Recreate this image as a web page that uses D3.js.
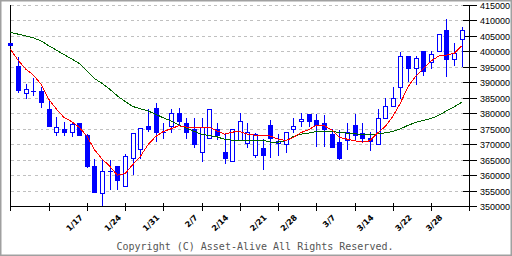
<!DOCTYPE html>
<html>
<head>
<meta charset="utf-8">
<script src="https://cdn.jsdelivr.net/npm/d3@7"></script>
<style>
html, body { margin: 0; padding: 0; background: #fff; }
svg { display: block; }
</style>
</head>
<body>
<div id="wrapper"></div>
<script>
// trading days shown on the chart
var dates = ["1/4","1/5","1/6","1/7","1/11","1/12","1/13","1/14",
  "1/17","1/18","1/19","1/20","1/21","1/24","1/25","1/26","1/27","1/28",
  "1/31","2/1","2/2","2/3","2/4","2/7","2/8","2/9","2/10",
  "2/14","2/15","2/16","2/17","2/18","2/21","2/22","2/23","2/24",
  "2/28","3/1","3/2","3/3","3/4","3/7","3/8","3/9","3/10","3/11",
  "3/14","3/15","3/16","3/17","3/18","3/22","3/23","3/24","3/25",
  "3/28","3/29","3/30","3/31","4/1"];

var openValues = [402500,395150,386460,387000,387000,381210,374040,374780,374040,376930,
  373070,362870,354090,361170,362970,356340,365670,368340,375740,381540,
  374040,375840,380150,376930,374780,367600,372110,374780,367470,364580,
  371340,370500,366640,368660,376070,370500,370050,374880,377450,379610,
  377770,376930,373170,370600,371460,376070,373720,372110,370180,378540,
  382280,388390,398590,394500,400200,396560,399980,406960,397630,403970];
var highValues = [402500,398170,389260,391190,388390,384110,378640,377030,376930,376930,
  373300,365130,364900,364800,362970,366730,373720,375100,381210,383150,
  376710,381210,381540,378540,378320,378320,381440,376930,373720,375000,
  380150,376930,373720,371560,377670,373170,374040,378540,380150,379610,
  379610,379280,374780,374680,376930,379610,376930,374040,381210,384980,
  388520,399650,398590,398380,400200,400200,405670,410400,402680,407700];
var lowValues = [402000,386780,384850,385800,381950,375840,372850,372850,372530,372940,
  362650,354600,350420,355470,355470,356340,360300,365670,374230,371010,
  372110,374040,376160,371880,369210,364580,372110,371560,364060,364580,
  371340,369210,365990,361910,365990,366510,367470,373910,375840,375840,
  369400,369400,369080,365130,368340,371240,371010,368120,370180,378540,
  382280,384750,390320,389490,392250,394630,399980,391930,395700,395370];
var closeValues = [402000,387330,387650,387000,383560,375840,375650,373910,376610,372940,
  362970,354600,361170,361170,358460,366090,373720,375100,374880,374040,
  374040,380150,377450,374040,370180,375650,381440,372850,365450,375000,
  377580,373910,373400,366640,372110,371140,374040,375970,378220,377450,
  376160,374880,369080,365540,374040,372940,372110,371010,378540,382280,
  384980,398590,394500,397850,393540,399240,405670,397630,399460,406960];

// short (red) and long (green) moving averages
var maShort = [400840,397300,394410,392480,389580,384750,381540,378800,377450,375580,
  372850,368340,365350,363030,360140,360620,363520,366190,369950,372620,
  374230,375100,376070,375650,375650,375650,375650,374460,373400,374040,
  374230,373400,373070,373070,372750,371790,371340,372300,373910,374780,
  376290,376160,374780,372300,371790,371240,370820,371240,373720,375840,
  379060,383470,388710,392160,394630,396980,398590,398910,399460,401810];
var maLong = [406220,405670,405120,404480,403510,401970,400520,399070,397720,396240,
  393930,391350,389740,387880,385720,383950,382340,381540,380890,379830,
  378640,377670,376390,375330,374300,373330,372940,372530,371720,371460,
  371460,371460,371460,371460,370820,370820,371240,372620,373400,373720,
  374230,374360,374230,373970,373720,373490,373270,373170,373490,373810,
  374230,375100,376230,377190,377840,378420,379450,380890,382180,383630];

var yTickValues = d3.range(350000, 415001, 5000);
var xLabelDates = ["1/17","1/24","1/31","2/7","2/14","2/21","2/28","3/7","3/14","3/22","3/28"];

function drawChart() {
  var dimensions = {
    width: 512,
    height: 256,
    left: 10.3,
    right: 469.3,
    top: 5.2,
    bottom: 206.6
  };

  var wrapper = d3.select('#wrapper')
    .append('svg')
    .attr('width', dimensions.width)
    .attr('height', dimensions.height)
    .style('font-family', 'Liberation Sans, sans-serif');

  var xScale = d3.scaleLinear()
    .domain([0, 60])
    .range([dimensions.left, dimensions.right]);
  var yScale = d3.scaleLinear()
    .domain([350000, 415000])
    .range([dimensions.bottom, dimensions.top]);

  var px = function (i) { return Math.round(xScale(i)) + 0.5; };
  var py = function (v) { return Math.floor(yScale(v)) + 0.5; };

  // outer frame
  wrapper.append('rect')
    .attr('x', 0).attr('y', 0)
    .attr('width', 512).attr('height', 256)
    .attr('fill', 'none')
    .attr('stroke', '#a0a0a0')
    .attr('stroke-width', 3);

  // dashed grid
  wrapper.append('g')
    .selectAll('line')
    .data(yTickValues.slice(1))
    .enter()
    .append('line')
    .attr('x1', px(0))
    .attr('x2', px(60))
    .attr('y1', py)
    .attr('y2', py)
    .attr('stroke', '#c0c0c0')
    .attr('stroke-dasharray', '3,3')
    .attr('shape-rendering', 'crispEdges');

  // axes lines
  var axes = wrapper.append('g')
    .attr('stroke', '#000')
    .attr('shape-rendering', 'crispEdges');
  axes.append('line')
    .attr('x1', px(0)).attr('x2', px(0))
    .attr('y1', py(415000) - 0.5).attr('y2', py(350000));
  axes.append('line')
    .attr('x1', px(60)).attr('x2', px(60))
    .attr('y1', py(415000) - 0.5).attr('y2', py(350000));
  axes.append('line')
    .attr('x1', px(0)).attr('x2', px(60))
    .attr('y1', py(350000)).attr('y2', py(350000));
  axes.selectAll('.xtick')
    .data(d3.range(0, 61, 5))
    .enter()
    .append('line')
    .attr('x1', px).attr('x2', px)
    .attr('y1', py(350000) - 4).attr('y2', py(350000) + 4);
  axes.selectAll('.ytick')
    .data(yTickValues)
    .enter()
    .append('line')
    .attr('x1', px(60) - 7).attr('x2', px(60) + 7)
    .attr('y1', py).attr('y2', py);

  // y labels on the right
  wrapper.append('g')
    .selectAll('text')
    .data(yTickValues)
    .enter()
    .append('text')
    .attr('x', 480)
    .attr('y', function (d) { return py(d) + 3; })
    .attr('fill', '#000')
    .style('font-size', '9px')
    .text(function (d) { return d; });

  // x labels, rotated
  wrapper.append('g')
    .selectAll('text')
    .data(xLabelDates)
    .enter()
    .append('text')
    .attr('transform', function (d) {
      return 'translate(' + (xScale(dates.indexOf(d)) + 8) + ',' + 214 + ') rotate(-45)';
    })
    .attr('text-anchor', 'end')
    .attr('dy', '0.7em')
    .attr('fill', '#000')
    .style('font-family', 'DejaVu Sans, sans-serif')
    .style('font-size', '8px')
    .style('font-weight', 'bold')
    .text(function (d) { return d; });

  // candles
  var candles = wrapper.append('g')
    .attr('shape-rendering', 'crispEdges');
  var candleGroups = candles.selectAll('g')
    .data(dates)
    .enter()
    .append('g');

  candleGroups.append('line')
    .attr('x1', function (d, i) { return px(i); })
    .attr('x2', function (d, i) { return px(i); })
    .attr('y1', function (d, i) { return py(highValues[i]) - 0.5; })
    .attr('y2', function (d, i) { return py(lowValues[i]) + 0.5; })
    .attr('stroke', '#0000ff');

  candleGroups.each(function (d, i) {
    var g = d3.select(this);
    var yo = py(openValues[i]);
    var yc = py(closeValues[i]);
    var cx = px(i);
    if (yo === yc) {
      g.append('line')
        .attr('x1', cx - 2.5).attr('x2', cx + 2.5)
        .attr('y1', yo).attr('y2', yo)
        .attr('stroke', '#0000ff');
    } else if (closeValues[i] > openValues[i]) {
      g.append('rect')
        .attr('x', cx - 2).attr('width', 4)
        .attr('y', yc).attr('height', yo - yc)
        .attr('fill', '#fff')
        .attr('stroke', '#0000ff');
    } else {
      g.append('rect')
        .attr('x', cx - 2.5).attr('width', 5)
        .attr('y', yo - 0.5).attr('height', yc - yo + 1)
        .attr('fill', '#0000ff');
    }
  });

  // moving averages
  var line = d3.line()
    .x(function (d, i) { return xScale(i); })
    .y(function (d) { return yScale(d); });

  wrapper.append('path')
    .datum(maLong)
    .attr('d', line)
    .attr('fill', 'none')
    .attr('stroke', '#006400')
    .attr('stroke-width', 1)
    .attr('shape-rendering', 'crispEdges');

  wrapper.append('path')
    .datum(maShort)
    .attr('d', line)
    .attr('fill', 'none')
    .attr('stroke', '#ff0000')
    .attr('stroke-width', 1)
    .attr('shape-rendering', 'crispEdges');

  // copyright
  wrapper.append('text')
    .attr('x', 255)
    .attr('y', 250)
    .attr('text-anchor', 'middle')
    .attr('fill', '#555')
    .style('font-family', 'DejaVu Sans Mono, monospace')
    .style('font-size', '10px')
    .text('Copyright (C) Asset-Alive All Rights Reserved.');
}
drawChart();
</script>
</body>
</html>
